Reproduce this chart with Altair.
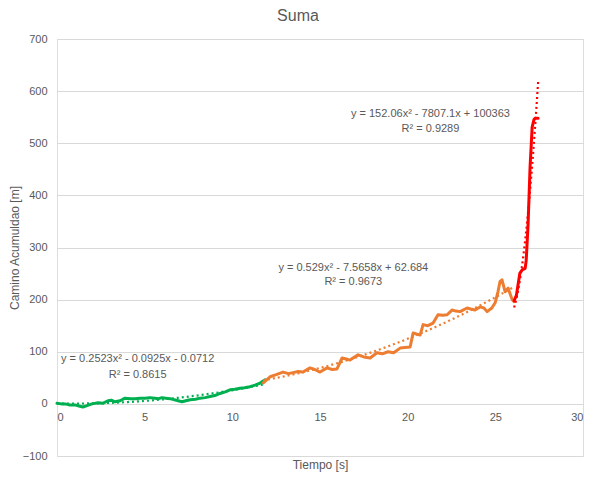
import altair as alt
import pandas as pd

# ---- data ----
green_x = [0, 0.25, 0.46, 0.75, 1.03, 1.25, 1.48, 1.75, 2.0, 2.34, 2.6, 2.91, 3.1, 3.31, 3.6,
           3.88, 4.2, 4.45, 4.75, 5.02, 5.3, 5.59, 5.8, 5.99, 6.2, 6.45, 6.8, 7.13, 7.35, 7.59,
           7.9, 8.16, 8.45, 8.73, 9.0, 9.3, 9.6, 9.87, 10.15, 10.44, 10.7, 11.01, 11.3, 11.58, 11.87]
green_y = [1, 0, 0, -2, -2, -4, -6, -3, 0, 2, 1, 6, 7, 4, 6,
           11, 10, 10, 11, 11, 12, 11, 10, 12, 11, 10, 7, 4, 6, 8,
           9, 11, 12, 14, 16, 20, 23, 27, 28, 30, 31, 33, 36, 40, 46]

orange_x = [11.75, 12.15, 12.5, 12.89, 13.2, 13.46, 13.75, 14.03, 14.43, 14.7, 15.0, 15.4, 15.7,
            15.97, 16.26, 16.5, 16.71, 17.17, 17.5, 17.86, 18.25, 18.55, 18.88, 19.2, 19.57, 19.85,
            20.14, 20.31, 20.5, 20.71, 20.88, 21.15, 21.45, 21.73, 22.0, 22.25, 22.53, 22.75, 22.99,
            23.39, 23.6, 23.84, 24.13, 24.35, 24.53, 24.8, 24.99, 25.15, 25.27, 25.38, 25.56, 25.73,
            25.96, 26.07]
orange_y = [40, 52, 56, 61, 58, 60, 62, 61, 69, 66, 61, 69, 66,
            67, 88, 86, 84, 94, 90, 88, 98, 96, 100, 98, 107, 108,
            109, 136, 134, 132, 152, 150, 155, 171, 170, 171, 180, 178, 177,
            184, 182, 180, 186, 184, 177, 184, 194, 215, 235, 238, 215, 222,
            200, 196]

red_x = [26.07, 26.2, 26.4, 26.53, 26.7, 26.76, 26.87, 26.98, 27.1, 27.2, 27.27, 27.44]
red_y = [198, 208, 251, 257, 260, 275, 346, 454, 531, 545, 548, 548]

series_names = ["verde", "naranja", "rojo"]
series_colors = ["#00B050", "#ED7D31", "#FF0000"]

eq_text = ["y = 0.2523x² - 0.0925x - 0.0712", "R² = 0.8615",
           "y = 0.529x² - 7.5658x + 62.684", "R² = 0.9673",
           "y = 152.06x² - 7807.1x + 100363", "R² = 0.9289"]
eq_x = [4.6, 4.6, 16.9, 16.9, 21.3, 21.3]
eq_y = [87, 56, 260, 233, 556, 527]

y_ticks = [-100, 0, 100, 200, 300, 400, 500, 600, 700]
x_ticks = [0, 5, 10, 15, 20, 25, 30]

# ---- tables ----
rows = []
for name, xs, ys in zip(series_names, [green_x, orange_x, red_x], [green_y, orange_y, red_y]):
    for i, (a, b) in enumerate(zip(xs, ys)):
        rows.append({"x": a, "y": b, "serie": name, "i": i})
df = pd.DataFrame(rows)
ann = pd.DataFrame({"x": eq_x, "y": eq_y, "t": eq_text})

FONT = "Liberation Sans"
GREY = "#595959"
W, H = 526, 417

xscale = alt.Scale(domain=[0, 30], nice=False)
yscale = alt.Scale(domain=[-100, 700], nice=False)
color = alt.Color("serie:N", scale=alt.Scale(domain=series_names, range=series_colors), legend=None)

xaxis = alt.Axis(values=x_ticks, grid=False, domain=False, ticks=False, offset=-H * 100 / 800,
                 labelPadding=8, labelFontSize=11, labelColor=GREY, labelFont=FONT,
                 title="Tiempo [s]", titleFont=FONT, titleFontSize=12, titleColor=GREY,
                 titleFontWeight="normal", titleY=56, titleBaseline="top")
yaxis = alt.Axis(values=y_ticks, grid=True, gridColor="#D9D9D9", gridWidth=1, domain=False,
                 ticks=False, labelPadding=10, labelFontSize=11, labelColor=GREY, labelFont=FONT,
                 title="Camino Acumuldao [m]", titleFont=FONT, titleFontSize=12, titleColor=GREY,
                 titleFontWeight="normal", titleX=-43, titleY=H / 2, titleAngle=270,
                 titleBaseline="middle", titleAlign="center")

base = alt.Chart(df)

lines = base.mark_line(strokeWidth=3, strokeJoin="round", strokeCap="round").encode(
    x=alt.X("x:Q", scale=xscale, axis=xaxis),
    y=alt.Y("y:Q", scale=yscale, axis=yaxis),
    color=color,
    detail="serie:N",
    order="i:Q",
)

trend = base.transform_regression(
    "x", "y", method="poly", order=2, groupby=["serie"]
).mark_line(strokeWidth=2.2, strokeDash=[2, 3]).encode(
    x=alt.X("x:Q", scale=xscale),
    y=alt.Y("y:Q", scale=yscale),
    color=color,
)

text = alt.Chart(ann).mark_text(font=FONT, fontSize=11, color=GREY, align="center",
                                baseline="middle").encode(
    x=alt.X("x:Q", scale=xscale),
    y=alt.Y("y:Q", scale=yscale),
    text="t:N",
)

chart = alt.layer(lines, trend, text).properties(
    width=W, height=H,
    title=alt.TitleParams("Suma", font=FONT, fontSize=16, color=GREY, fontWeight="normal",
                          anchor="middle", dx=-22, offset=9),
    autosize=alt.AutoSizeParams(type="none"),
    padding={"left": 49, "top": 31, "right": 9, "bottom": 19},
).configure_view(strokeWidth=0).configure(background="white")

chart.save("out.html", embed_options={"renderer": "svg", "actions": False})
